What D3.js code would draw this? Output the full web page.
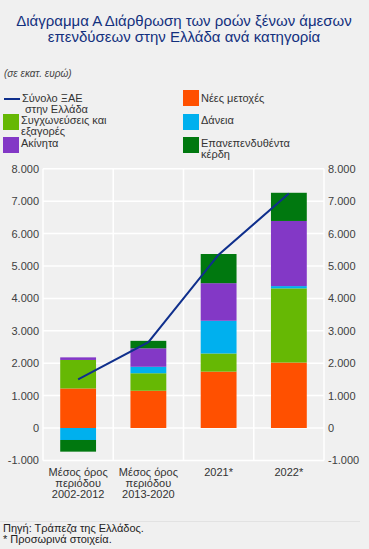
<!DOCTYPE html>
<html>
<head>
<meta charset="utf-8">
<script src="https://cdn.jsdelivr.net/npm/d3@7"></script>
<style>
  html, body { margin: 0; padding: 0; background: #f0f0f0; }
  svg { display: block; font-family: "Liberation Sans", Arial, sans-serif; }
</style>
</head>
<body>
<svg id="chart" width="369" height="549"></svg>
<script>
// ---- Data ----
const categories = ["Μέσος όρος\nπεριόδου\n2002-2012", "Μέσος όρος\nπεριόδου\n2013-2020", "2021*", "2022*"];
const newShares = [1220, 1150, 1740, 2020];
const mergers = [880, 540, 560, 2290];
const loans = [-370, 200, 1010, 70];
const realEstate = [80, 570, 1160, 2010];
const reinvested = [-360, 230, 900, 870];
const totalFDI = [1500, 2650, 5350, 7240];
const yTicks = [-1000, 0, 1000, 2000, 3000, 4000, 5000, 6000, 7000, 8000];

const seriesKeys = ["newShares", "mergers", "loans", "realEstate", "reinvested"];
const seriesNames = {
  newShares: "Νέες μετοχές",
  mergers: "Συγχωνεύσεις και\nεξαγορές",
  loans: "Δάνεια",
  realEstate: "Ακίνητα",
  reinvested: "Επανεπενδυθέντα\nκέρδη"
};
const colors = {
  newShares: "#ff5000",
  mergers: "#66b804",
  loans: "#00b0ee",
  realEstate: "#8338c6",
  reinvested: "#00780f"
};
const lineColor = "#0f2f8c";

const table = categories.map((c, i) => ({
  cat: c,
  newShares: newShares[i], mergers: mergers[i], loans: loans[i],
  realEstate: realEstate[i], reinvested: reinvested[i]
}));

const svg = d3.select("#chart");
const W = 369, H = 549;
svg.append("rect").attr("width", W).attr("height", H).attr("fill", "#f0f0f0");

// Title
const title = svg.append("text").attr("text-anchor", "middle").attr("fill", "#13307e")
  .style("font-size", "15px");
title.append("tspan").attr("x", 184).attr("y", 26).text("Διάγραμμα Α Διάρθρωση των ροών ξένων άμεσων");
title.append("tspan").attr("x", 184).attr("y", 42).text("επενδύσεων στην Ελλάδα ανά κατηγορία");

svg.append("text").attr("x", 4).attr("y", 77).attr("fill", "#444")
  .style("font-size", "10px").style("font-style", "italic").text("(σε εκατ. ευρώ)");

// Scales
const plotL = 43, plotR = 324;
const xOuter = d3.scaleBand().domain(categories).range([plotL, plotR]).padding(0);
const x = d3.scaleBand().domain(categories).range([plotL, plotR]).paddingInner(0.49).paddingOuter(0.245);
const y = d3.scaleLinear().domain([-1000, 8000]).range([460.4, 168.8]);

const locale = d3.formatLocale({ decimal: ",", thousands: ".", grouping: [3], currency: ["", ""], minus: "-" });
const fmt = locale.format(",d");

// Grid
const g = svg.append("g");
g.selectAll("line.h").data(yTicks).join("line")
  .attr("x1", plotL).attr("x2", plotR)
  .attr("y1", d => y(d)).attr("y2", d => y(d))
  .attr("stroke", "#ffffff").attr("stroke-width", 1.5);
const vlines = categories.map(c => xOuter(c)).concat([plotR]);
g.selectAll("line.v").data(vlines).join("line")
  .attr("x1", d => d).attr("x2", d => d)
  .attr("y1", y(8000)).attr("y2", y(-1000))
  .attr("stroke", "#ffffff").attr("stroke-width", 1.5);

// Axes
const axL = svg.append("g").attr("transform", `translate(${plotL - 4},0)`)
  .call(d3.axisLeft(y).tickValues(yTicks).tickFormat(fmt).tickSize(0).tickPadding(0));
const axR = svg.append("g").attr("transform", `translate(${plotR + 4},0)`)
  .call(d3.axisRight(y).tickValues(yTicks).tickFormat(fmt).tickSize(0).tickPadding(0));
[axL, axR].forEach(a => {
  a.select(".domain").remove();
  a.selectAll("text").attr("fill", "#404040").style("font-size", "11px")
    .style("font-family", "Liberation Sans, Arial, sans-serif");
});

// Stacked bars
const stack = d3.stack().keys(seriesKeys).offset(d3.stackOffsetDiverging);
const stacked = stack(table);
svg.append("g").selectAll("g").data(stacked).join("g")
  .attr("fill", d => colors[d.key])
  .selectAll("rect").data(d => d).join("rect")
  .attr("x", d => x(d.data.cat))
  .attr("width", x.bandwidth())
  .attr("y", d => y(Math.max(d[0], d[1])))
  .attr("height", d => Math.abs(y(d[0]) - y(d[1])));

// Line
const line = d3.line()
  .x((d, i) => x(categories[i]) + x.bandwidth() / 2)
  .y(d => y(d));
svg.append("path").datum(totalFDI).attr("d", line)
  .attr("fill", "none").attr("stroke", lineColor).attr("stroke-width", 2);

// X labels
const xl = svg.append("g");
categories.forEach(c => {
  const t = xl.append("text").attr("text-anchor", "middle").attr("fill", "#333")
    .style("font-size", "11px");
  c.split("\n").forEach((s, j) => {
    t.append("tspan").attr("x", xOuter(c) + xOuter.bandwidth() / 2).attr("y", 476 + j * 11).text(s);
  });
});

// Legend
const legend = svg.append("g").style("font-size", "11px");
function legendText(xp, yp, txt) {
  const t = legend.append("text").attr("fill", "#333");
  txt.split("\n").forEach((s, j) => t.append("tspan").attr("x", xp).attr("y", yp + j * 10.5).text(s));
}
legend.append("line").attr("x1", 4).attr("x2", 20).attr("y1", 99).attr("y2", 99)
  .attr("stroke", lineColor).attr("stroke-width", 2);
legendText(22, 102, "Σύνολο ΞΑΕ\n στην Ελλάδα");
const legItems = [
  { key: "mergers", x: 3, y: 114 },
  { key: "realEstate", x: 3, y: 137 },
  { key: "newShares", x: 183, y: 90 },
  { key: "loans", x: 183, y: 114 },
  { key: "reinvested", x: 183, y: 137 }
];
legItems.forEach(it => {
  legend.append("rect").attr("x", it.x).attr("y", it.y).attr("width", 16).attr("height", 16)
    .attr("fill", colors[it.key]);
  legendText(it.x + 18, it.y + (it.key === "newShares" ? 12 : 10), seriesNames[it.key]);
});

// Footer
svg.append("line").attr("x1", 0).attr("x2", 360).attr("y1", 521.5).attr("y2", 521.5)
  .attr("stroke", "#e2e2e2").attr("stroke-width", 1);
const foot = svg.append("text").attr("fill", "#222").style("font-size", "11px");
foot.append("tspan").attr("x", 3).attr("y", 532).text("Πηγή: Τράπεζα της Ελλάδος.");
foot.append("tspan").attr("x", 3).attr("y", 542.5).text("* Προσωρινά στοιχεία.");
</script>
</body>
</html>
